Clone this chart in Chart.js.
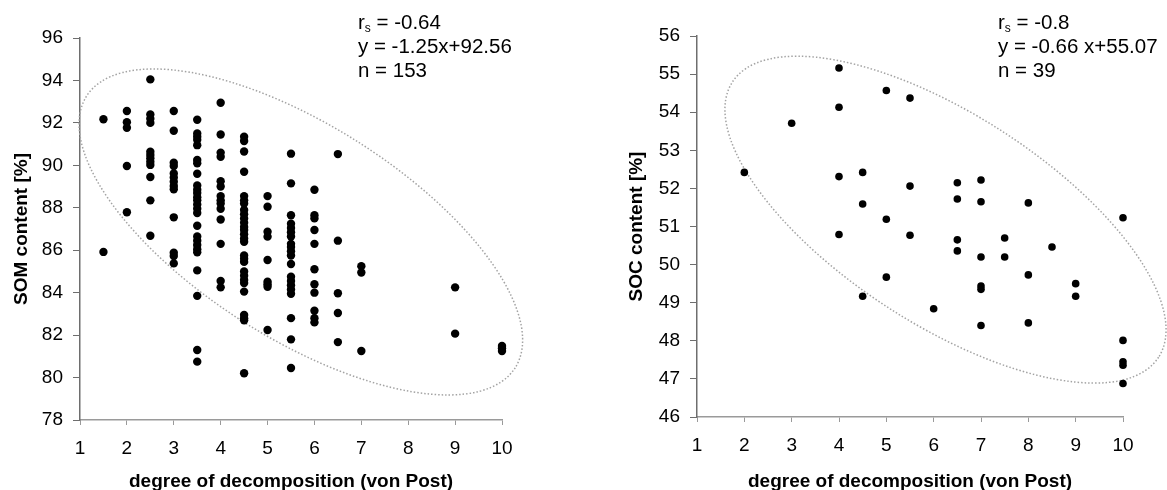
<!DOCTYPE html>
<html>
<head>
<meta charset="utf-8">
<script src="https://cdn.jsdelivr.net/npm/chart.js@4.4.1/dist/chart.umd.min.js"></script>
<style>
  html, body { margin: 0; padding: 0; background: #fff; overflow: hidden; }
  #somChart { position: absolute; left: 0; top: 0; }
  #socChart { position: absolute; left: 600px; top: 0; }
</style>
</head>
<body>
<canvas id="somChart" width="560" height="490"></canvas>
<canvas id="socChart" width="567" height="490"></canvas>
<script>
// von Post classes (x) and the values measured in each class (y)
const xTickValues = [1, 2, 3, 4, 5, 6, 7, 8, 9, 10];

const somColumns = [1.5, 2, 2.5, 3, 3.5, 4, 4.5, 5, 5.5, 6, 6.5, 7, 9, 10];
const somValues = [
    [92.17, 85.92],
    [92.56, 92.03, 91.77, 89.97, 87.79],
    [94.05, 92.4, 92.2, 92.0, 90.64, 90.49, 90.33, 90.17, 90.02, 89.45, 88.35, 86.68],
    [92.56, 91.63, 90.12, 89.97, 89.62, 89.43, 89.23, 89.03, 88.87, 87.55, 85.88, 85.73, 85.38],
    [92.15, 91.5, 91.35, 91.2, 90.95, 90.25, 90.1, 89.6, 89.05, 88.85, 88.7, 88.5, 88.35,
     88.15, 87.95, 87.75, 87.15, 86.65, 86.45, 86.25, 86.05, 85.9, 85.05, 83.85, 81.3, 80.75],
    [92.95, 91.45, 90.6, 90.4, 89.25, 89.0, 88.55, 88.35, 88.2, 87.95, 87.45, 86.3, 84.55, 84.25],
    [91.35, 91.15, 90.65, 89.7, 88.55, 88.35, 88.2, 87.9, 87.7, 87.5, 87.3, 87.1, 86.95, 86.75,
     86.55, 86.4, 85.75, 85.6, 85.45, 85.0, 84.8, 84.6, 84.45, 84.05, 82.95, 82.8, 82.7, 80.2],
    [88.55, 88.05, 86.87, 86.64, 85.54, 84.52, 84.4, 84.28, 82.24],
    [90.55, 89.15, 87.65, 87.25, 87.05, 86.85, 86.65, 86.3, 86.15, 85.95, 85.75, 85.35, 84.75,
     84.55, 84.35, 84.15, 83.95, 82.8, 81.8, 80.45],
    [88.85, 87.65, 87.5, 86.95, 86.3, 85.1, 84.4, 84.0, 83.15, 82.8, 82.6],
    [90.53, 86.45, 83.97, 83.04, 81.67],
    [85.25, 84.95, 81.25],
    [84.25, 82.07],
    [81.49, 81.38, 81.25]
];
const somYTicks = [78, 80, 82, 84, 86, 88, 90, 92, 94, 96];
const somStats = ['-0.64', 'y = -1.25x+92.56', 'n = 153'];

const socColumns = [2, 3, 4, 4.5, 5, 5.5, 6, 6.5, 7, 7.5, 8, 8.5, 9, 10];
const socValues = [
    [52.42],
    [53.71],
    [55.16, 54.13, 52.31, 50.79],
    [52.42, 51.59, 49.17],
    [54.57, 51.19, 49.67],
    [54.37, 52.06, 50.77],
    [48.84],
    [52.15, 51.72, 50.65, 50.36],
    [52.22, 51.65, 50.2, 49.44, 49.35, 48.4],
    [50.7, 50.2],
    [51.62, 49.73, 48.47],
    [50.46],
    [49.5, 49.17],
    [51.23, 48.01, 47.45, 47.36, 46.88]
];
const socYTicks = [46, 47, 48, 49, 50, 51, 52, 53, 54, 55, 56];
const socStats = ['-0.8', 'y = -0.66 x+55.07', 'n = 39'];

// dotted confidence ellipses, in data units (centre, half extents, correlation)
const somEllipse = { cx: 5.71, cy: 86.86, halfX: 4.73, halfY: 7.68, r: -0.663 };
const socEllipse = { cx: 6.25, cy: 51.18, halfX: 4.66, halfY: 4.29, r: -0.674 };

const FONT = "'Liberation Sans', Arial, sans-serif";

function toPoints(columns, values) {
    const pts = [];
    columns.forEach((x, i) => values[i].forEach(y => pts.push({ x: x, y: y })));
    return pts;
}

// draws the rotated ellipse through the chart's own scales
const ellipsePlugin = {
    id: 'ellipse',
    beforeDatasetsDraw(chart, args, opts) {
        const e = opts.shape;
        if (!e) return;
        const { ctx, scales: { x, y } } = chart;
        const sx = Math.abs(x.getPixelForValue(1) - x.getPixelForValue(0));
        const sy = Math.abs(y.getPixelForValue(1) - y.getPixelForValue(0));
        const W = e.halfX * sx, H = e.halfY * sy;
        const sxy = -e.r * W * H; // screen y grows downwards
        const sxx = W * W, syy = H * H;
        const m = (sxx + syy) / 2;
        const d = Math.sqrt(((sxx - syy) / 2) ** 2 + sxy * sxy);
        const a = Math.sqrt(m + d), b = Math.sqrt(m - d);
        const ang = 0.5 * Math.atan2(2 * sxy, sxx - syy);
        ctx.save();
        ctx.beginPath();
        ctx.ellipse(x.getPixelForValue(e.cx), y.getPixelForValue(e.cy), a, b, ang, 0, 2 * Math.PI);
        ctx.setLineDash([1.5, 2]);
        ctx.strokeStyle = '#a3a3a3';
        ctx.lineWidth = 1.5;
        ctx.stroke();
        ctx.restore();
    }
};

// r_s / regression / n text block
const statsPlugin = {
    id: 'stats',
    afterDraw(chart, args, opts) {
        const lines = opts.lines;
        if (!lines) return;
        const ctx = chart.ctx;
        const big = '20.5px ' + FONT;
        ctx.save();
        ctx.fillStyle = '#000';
        ctx.textBaseline = 'alphabetic';
        ctx.textAlign = 'left';
        let x = opts.x;
        ctx.font = big;
        ctx.fillText('r', x, opts.y);
        x += ctx.measureText('r').width;
        ctx.font = '12px ' + FONT;
        ctx.fillText('s', x, opts.y + 3);
        x += ctx.measureText('s').width;
        ctx.font = big;
        ctx.fillText(' = ' + lines[0], x, opts.y);
        ctx.fillText(lines[1], opts.x, opts.y + 24);
        ctx.fillText(lines[2], opts.x, opts.y + 48);
        ctx.restore();
    }
};

function makeChart(id, opts) {
    const ctx = document.getElementById(id).getContext('2d');
    return new Chart(ctx, {
        type: 'scatter',
        data: {
            datasets: [{
                data: toPoints(opts.columns, opts.values),
                backgroundColor: '#000',
                borderWidth: 0,
                pointRadius: opts.radius,
                pointHoverRadius: opts.radius,
                clip: false
            }]
        },
        options: {
            responsive: false,
            animation: false,
            events: [],
            layout: { padding: { top: opts.top, right: opts.right, left: 0, bottom: 0 } },
            plugins: {
                legend: { display: false },
                tooltip: { enabled: false },
                ellipse: { shape: opts.ellipse },
                stats: { lines: opts.stats, x: opts.statsX, y: 29 }
            },
            scales: {
                x: {
                    type: 'linear',
                    min: 1,
                    max: 10,
                    afterBuildTicks: s => { s.ticks = xTickValues.map(v => ({ value: v })); },
                    afterFit: s => { s.height = opts.xHeight; },
                    grid: { drawOnChartArea: false, tickLength: 5, tickColor: '#9a9a9a' },
                    border: { color: '#9a9a9a', width: 1.5 },
                    ticks: { color: '#000', padding: 12, maxRotation: 0, font: { family: FONT, size: 19 } },
                    title: {
                        display: true,
                        text: 'degree of decomposition (von Post)',
                        color: '#000',
                        padding: 0,
                        font: { family: FONT, size: 19, weight: 'bold', lineHeight: 0.9 }
                    }
                },
                y: {
                    type: 'linear',
                    min: opts.yTicks[0],
                    max: opts.yTicks[opts.yTicks.length - 1],
                    afterBuildTicks: s => { s.ticks = opts.yTicks.map(v => ({ value: v })); },
                    afterFit: s => { s.width = opts.yWidth; },
                    grid: { drawOnChartArea: false, tickLength: 7, tickColor: '#6e6e6e' },
                    border: { color: '#6e6e6e', width: 1.5 },
                    ticks: { color: '#000', padding: 10, font: { family: FONT, size: 19 } },
                    title: {
                        display: true,
                        text: opts.yTitle,
                        color: '#000',
                        padding: { top: opts.yTitlePad, bottom: 0 },
                        font: { family: FONT, size: 19, weight: 'bold' }
                    }
                }
            }
        },
        plugins: [ellipsePlugin, statsPlugin]
    });
}

makeChart('somChart', {
    columns: somColumns, values: somValues, yTicks: somYTicks, stats: somStats,
    ellipse: somEllipse, yTitle: 'SOM content [%]', radius: 4.2,
    top: 38, right: 58, xHeight: 70, yWidth: 80, yTitlePad: 10.6, statsX: 358
});

makeChart('socChart', {
    columns: socColumns, values: socValues, yTicks: socYTicks, stats: socStats,
    ellipse: socEllipse, yTitle: 'SOC content [%]', radius: 3.8,
    top: 36, right: 44, xHeight: 73, yWidth: 97, yTitlePad: 25, statsX: 398
});
</script>
</body>
</html>
